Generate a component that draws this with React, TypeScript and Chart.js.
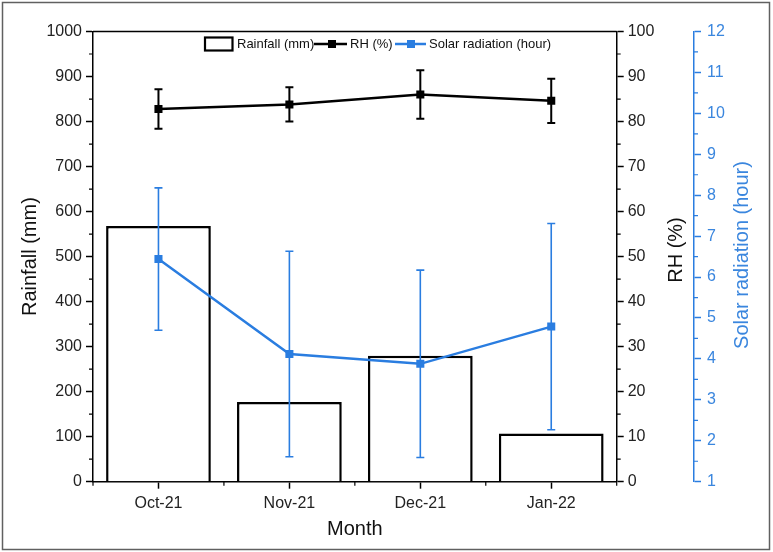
import React, { useEffect, useRef } from 'react';
import { Chart, registerables } from 'chart.js';
Chart.register(...registerables);

const months = ['Oct-21', 'Nov-21', 'Dec-21', 'Jan-22'];
const rainfall = [568, 177, 280, 107];
const rh = [82.8, 83.8, 86.0, 84.6];
const rhErr = [4.4, 3.8, 5.4, 4.9];
const solar = [6.44, 4.12, 3.88, 4.79];
const solarErr = [1.74, 2.51, 2.29, 2.52];

const FONT = "'Liberation Sans', Arial, sans-serif";
const BLUE = '#2a7de0';
const BLUE_TXT = '#3a86de';

export default function App() {
  const ref = useRef<HTMLCanvasElement>(null);
  useEffect(() => {
    document.body.style.margin = '0';
    const canvas = ref.current;
    if (!canvas) return;

    const errorPlugin = {
      id: 'errorBars',
      beforeDatasetDraw(chart: any, args: any) {
        const ds: any = chart.data.datasets[args.index];
        if (!ds.errValues) return;
        const meta = args.meta;
        const scale = chart.scales[meta.yAxisID];
        const ctx = chart.ctx;
        ctx.save();
        ctx.strokeStyle = ds.borderColor;
        ctx.lineWidth = ds.errWidth;
        ds.data.forEach((v: number, i: number) => {
          const x = meta.data[i].x;
          const e = ds.errValues[i];
          const y1 = scale.getPixelForValue(v + e);
          const y2 = scale.getPixelForValue(v - e);
          ctx.beginPath();
          ctx.moveTo(x, y1); ctx.lineTo(x, y2);
          ctx.moveTo(x - 4, y1); ctx.lineTo(x + 4, y1);
          ctx.moveTo(x - 4, y2); ctx.lineTo(x + 4, y2);
          ctx.stroke();
        });
        ctx.restore();
      },
    };

    const decor = {
      id: 'decor',
      afterDraw(chart: any) {
        const ctx = chart.ctx;
        const a = chart.chartArea;
        const sy = chart.scales.y;
        const sr = chart.scales.yRH;
        const ss = chart.scales.ySolar;
        ctx.save();
        // frame
        ctx.strokeStyle = '#606060';
        ctx.lineWidth = 1.5;
        ctx.strokeRect(2.5, 2.5, 767, 547);
        // top border of plot
        ctx.strokeStyle = '#000';
        ctx.lineWidth = 1.5;
        ctx.beginPath();
        ctx.moveTo(a.left, a.top); ctx.lineTo(a.right, a.top);
        ctx.stroke();
        // minor ticks
        ctx.lineWidth = 1.2;
        ctx.beginPath();
        for (let v = 50; v < 1000; v += 100) {
          const y = sy.getPixelForValue(v);
          ctx.moveTo(a.left - 4, y); ctx.lineTo(a.left, y);
        }
        for (let v = 5; v < 100; v += 10) {
          const y = sr.getPixelForValue(v);
          ctx.moveTo(sr.left, y); ctx.lineTo(sr.left + 4, y);
        }
        const n = months.length;
        const step = (a.right - a.left) / n;
        for (let i = 0; i <= n; i++) {
          const x = a.left + i * step;
          ctx.moveTo(x, a.bottom); ctx.lineTo(x, a.bottom + 4);
        }
        ctx.stroke();
        ctx.strokeStyle = BLUE;
        ctx.beginPath();
        for (let v = 1.5; v < 12; v += 1) {
          const y = ss.getPixelForValue(v);
          ctx.moveTo(ss.left, y); ctx.lineTo(ss.left + 4, y);
        }
        ctx.stroke();

        // axis titles
        ctx.fillStyle = '#111';
        ctx.textAlign = 'center';
        ctx.textBaseline = 'middle';
        ctx.font = `20px ${FONT}`;
        ctx.fillText('Month', (a.left + a.right) / 2, 529);
        ctx.save();
        ctx.translate(30, (a.top + a.bottom) / 2);
        ctx.rotate(-Math.PI / 2);
        ctx.fillText('Rainfall (mm)', 0, 0);
        ctx.restore();
        ctx.save();
        ctx.translate(676, 250);
        ctx.rotate(-Math.PI / 2);
        ctx.fillText('RH (%)', 0, 0);
        ctx.restore();
        ctx.save();
        ctx.fillStyle = BLUE_TXT;
        ctx.translate(742, 255);
        ctx.rotate(-Math.PI / 2);
        ctx.fillText('Solar radiation (hour)', 0, 0);
        ctx.restore();

        // legend
        const ly = 44;
        ctx.font = `13px ${FONT}`;
        ctx.textAlign = 'left';
        ctx.fillStyle = '#111';
        ctx.strokeStyle = '#000';
        ctx.lineWidth = 2.2;
        ctx.strokeRect(205, 37.5, 27.5, 13);
        ctx.fillText('Rainfall (mm)', 237, ly);
        ctx.lineWidth = 2.5;
        ctx.beginPath();
        ctx.moveTo(314, ly); ctx.lineTo(347, ly);
        ctx.stroke();
        ctx.fillStyle = '#000';
        ctx.fillRect(328, ly - 4, 8, 8);
        ctx.fillStyle = '#111';
        ctx.fillText('RH (%)', 350, ly);
        ctx.strokeStyle = BLUE;
        ctx.beginPath();
        ctx.moveTo(395, ly); ctx.lineTo(426, ly);
        ctx.stroke();
        ctx.fillStyle = BLUE;
        ctx.fillRect(407, ly - 4, 8, 8);
        ctx.fillStyle = '#111';
        ctx.fillText('Solar radiation (hour)', 429, ly);
        ctx.restore();
      },
    };

    const tickFont = { family: FONT, size: 16 };
    const plain = (v: any) => String(v);

    const chart = new Chart(canvas, {
      type: 'bar',
      data: {
        labels: months,
        datasets: [
          {
            type: 'line',
            label: 'RH (%)',
            data: rh,
            yAxisID: 'yRH',
            borderColor: '#000',
            backgroundColor: '#000',
            borderWidth: 2.5,
            pointStyle: 'rect',
            pointRadius: 5.7,
            pointBorderWidth: 0,
            errValues: rhErr,
            errWidth: 2,
          } as any,
          {
            type: 'line',
            label: 'Solar radiation (hour)',
            data: solar,
            yAxisID: 'ySolar',
            borderColor: BLUE,
            backgroundColor: BLUE,
            borderWidth: 2.5,
            pointStyle: 'rect',
            pointRadius: 5.7,
            pointBorderWidth: 0,
            errValues: solarErr,
            errWidth: 1.6,
          } as any,
          {
            type: 'bar',
            label: 'Rainfall (mm)',
            data: rainfall,
            yAxisID: 'y',
            backgroundColor: '#fff',
            borderColor: '#000',
            borderWidth: 2.5,
            barPercentage: 0.8,
            categoryPercentage: 1.0,
          },
        ],
      },
      options: {
        responsive: false,
        animation: false,
        layout: { padding: { left: 0, right: 0, top: 31.5, bottom: 0 } },
        plugins: {
          legend: { display: false },
          tooltip: { enabled: false },
        },
        scales: {
          x: {
            offset: true,
            grid: { offset: false, drawOnChartArea: false, tickLength: 7, tickWidth: 1.5, color: '#000' },
            border: { display: true, color: '#000', width: 1.5 },
            ticks: { font: tickFont, color: '#222', padding: 5, maxRotation: 0 },
            afterFit: (s: any) => { s.height = 70.3; },
          },
          y: {
            position: 'left',
            min: 0,
            max: 1000,
            ticks: { stepSize: 100, font: tickFont, color: '#222', padding: 4, callback: plain },
            grid: { drawOnChartArea: false, tickLength: 7, tickWidth: 1.5, color: '#000' },
            border: { display: true, color: '#000', width: 1.5 },
            afterFit: (s: any) => { s.width = 93; },
          },
          yRH: {
            position: 'right',
            min: 0,
            max: 100,
            ticks: { stepSize: 10, font: tickFont, color: '#222', padding: 4, callback: plain },
            grid: { drawOnChartArea: false, tickLength: 7, tickWidth: 1.5, color: '#000' },
            border: { display: true, color: '#000', width: 1.5 },
            afterFit: (s: any) => { s.width = 77.3; },
          },
          ySolar: {
            position: 'right',
            min: 1,
            max: 12,
            ticks: { stepSize: 1, font: tickFont, color: BLUE_TXT, padding: 6, callback: plain },
            grid: { drawOnChartArea: false, tickLength: 7, tickWidth: 1.5, color: BLUE },
            border: { display: true, color: BLUE, width: 1.5 },
            afterFit: (s: any) => { s.width = 79; },
          },
        },
      } as any,
      plugins: [errorPlugin, decor],
    });
    return () => chart.destroy();
  }, []);
  return (
    <div style={{ width: 773, height: 552 }}>
      <canvas ref={ref} width={773} height={552} style={{ display: 'block' }} />
    </div>
  );
}
